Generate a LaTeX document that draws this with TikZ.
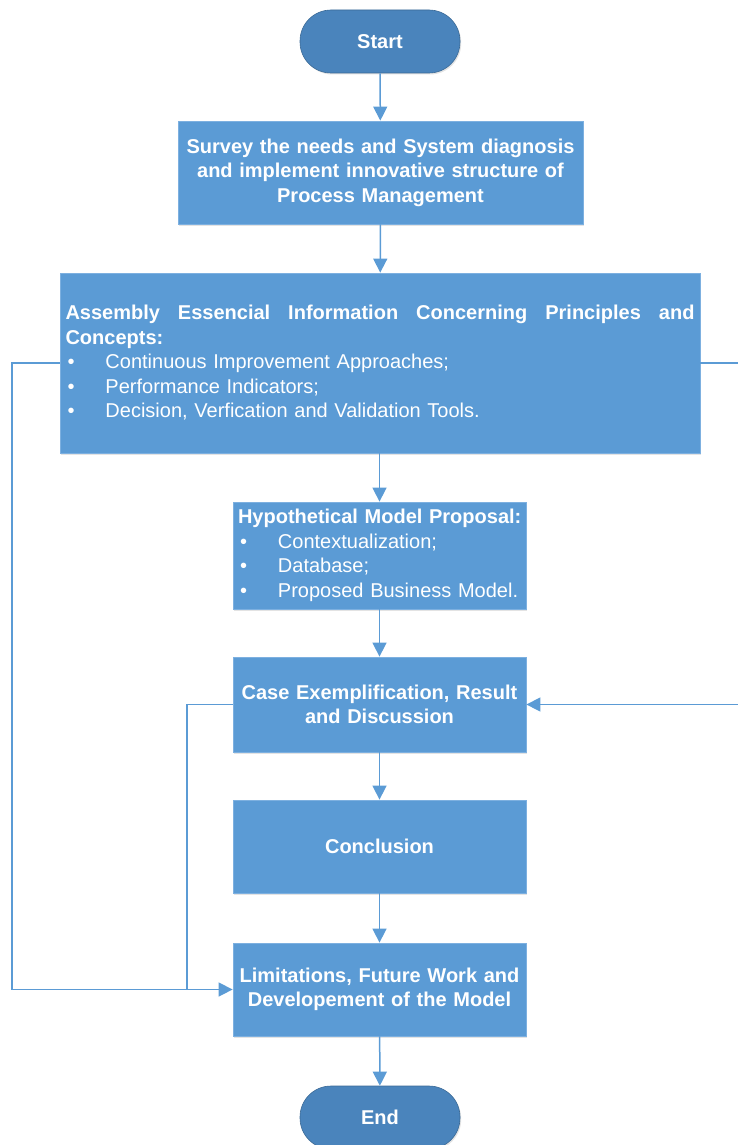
\documentclass[tikz,border=0pt]{standalone}
\usepackage{fontspec}
\setmainfont{Liberation Sans}
\usetikzlibrary{arrows.meta,shadows}
\definecolor{boxblue}{HTML}{5B9BD5}
\definecolor{termblue}{HTML}{4A84BC}
\definecolor{edgeblue}{HTML}{7DB0E0}
\definecolor{linkblue}{HTML}{5B9BD5}
\tikzset{
  every node/.style={font=\fontsize{20}{24.5}\selectfont, text=white},
  stepbox/.style={draw=edgeblue, line width=0.8pt, fill=boxblue, inner sep=0pt,
    drop shadow={opacity=0.22, shadow xshift=1.2pt, shadow yshift=-1.5pt}},
  terminal/.style={draw=termblue!80!black, line width=0.6pt, fill=termblue,
    rounded corners=31pt, minimum width=160pt, minimum height=63pt,
    font=\fontsize{20}{24.5}\selectfont\bfseries,
    drop shadow={opacity=0.22, shadow xshift=1.2pt, shadow yshift=-1.5pt}},
  link/.style={draw=linkblue, line width=1.5pt},
  flow/.style={link, -{Triangle[width=14pt,length=14pt]}},
}
\newcommand{\bul}{\makebox[40pt][l]{\hspace{2pt}•}}
\begin{document}
\begin{tikzpicture}[x=1pt,y=-1pt]
\useasboundingbox (0,0) rectangle (737,1145);

% process nodes
\node[terminal] (start) at (380,41.5) {Start};
\node[stepbox, minimum width=405pt, minimum height=103pt, text width=400pt,
      align=center, font=\fontsize{20}{24.5}\selectfont\bfseries]
  (survey) at (380.5,172.5)
  {Survey the needs and System diagnosis\\and implement innovative structure of\\Process Management};
\node[stepbox, minimum width=640pt, minimum height=180pt, text width=629pt, align=left]
  (assembly) at (380,363)
  {\hbox to 629pt{\bfseries Assembly\hfill Essencial\hfill Information\hfill Concerning\hfill Principles\hfill and}\\
   {\bfseries Concepts:}\\
   \bul Continuous Improvement Approaches;\\
   \bul Performance Indicators;\\
   \bul Decision, Verfication and Validation Tools.};
\node[stepbox, minimum width=293pt, minimum height=107pt, text width=283pt, align=left]
  (model) at (379.5,555.5)
  {\mbox{\bfseries Hypothetical Model Proposal:}\\
   \bul Contextualization;\\
   \bul Database;\\
   \bul Proposed Business Model.};
\node[stepbox, minimum width=293pt, minimum height=95pt, text width=285pt, align=center,
      font=\fontsize{20}{24.5}\selectfont\bfseries]
  (case) at (379.5,704.5)
  {Case Exemplification, Result\\and Discussion};
\node[stepbox, minimum width=293pt, minimum height=93pt, text width=285pt, align=center,
      font=\fontsize{20}{24.5}\selectfont\bfseries]
  (concl) at (379.5,846.5) {Conclusion};
\node[stepbox, minimum width=293pt, minimum height=93pt, text width=285pt, align=center,
      font=\fontsize{20}{24.5}\selectfont\bfseries]
  (limits) at (379.5,989.5)
  {Limitations, Future Work and\\Developement of the Model};
\node[terminal] (end) at (380,1117.5) {End};

% main sequence
\draw[flow] (start) -- (survey);
\draw[flow] (survey) -- (assembly);
\draw[flow] (assembly.south -| model.north) -- (model);
\draw[flow] (model) -- (case);
\draw[flow] (case) -- (concl);
\draw[flow] (concl) -- (limits);
\draw[flow] (limits) -- (end);

% feedback paths
\coordinate (lout) at (12,363);
\coordinate (rout) at (740,363);
\coordinate (cin) at (187,704.5);
\draw[flow] (assembly.west) -- (lout) |- (limits.west);
\draw[link] (case.west) -- (cin) -- (cin |- limits.west);
\draw[flow] (assembly.east) -- (rout) |- (case.east);
\end{tikzpicture}
\end{document}
